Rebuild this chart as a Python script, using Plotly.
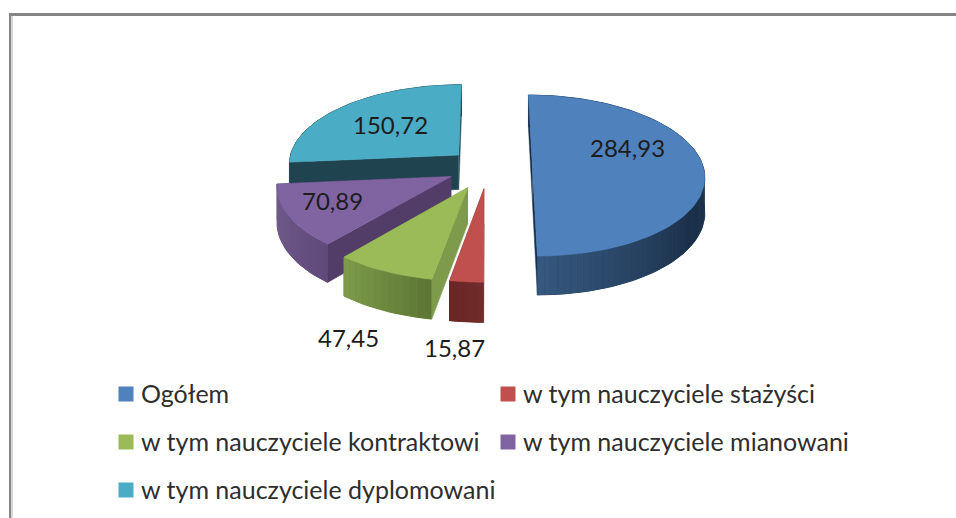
import numpy as np
import plotly.graph_objects as go

CATEGORIES = ["Ogółem", "w tym nauczyciele stażyści", "w tym nauczyciele kontraktowi",
              "w tym nauczyciele mianowani", "w tym nauczyciele dyplomowani"]
VALUES = [284.93, 15.87, 47.45, 70.89, 150.72]
VALUE_LABELS = ["284,93", "15,87", "47,45", "70,89", "150,72"]
PULL = [0.26, 0.26, 0.27, 0.24, 0.235]
TOP_COLORS = ["#4f81bd", "#c0504d", "#9bbb59", "#8064a2", "#4bacc6"]
SIDE_START = ["#36587f", "#702c2a", "#7d9b4a", "#75608f", "#1f4450"]
SIDE_END = ["#1b2f48", "#6a2725", "#5e7735", "#5f4a7c", "#1f4450"]
RADIAL_COLORS = ["#17304d", "#702c2a", "#7d9b4a", "#523c68", "#1f4450"]
LABEL_POS = [(627, 147), (454, 347), (348, 337), (332, 200), (390, 124)]
LEGEND_POS = [(126, 394), (508, 394), (126, 442), (508, 442), (126, 490)]

# Projection of the tilted pie onto the page
X0, Y0, RX, RY, K, DEPTH = 488, 167.5, 171, 79.7, 0.10, 35


def project(u, v):
    w = 1 - K * v
    return X0 + RX * u / w, Y0 + RY * v / w, DEPTH / w


def hexrgb(c):
    return np.array([int(c[i:i + 2], 16) for i in (1, 3, 5)], float)


def mix(a, b, t):
    r = hexrgb(a) * (1 - t) + hexrgb(b) * t
    return "rgb(%d,%d,%d)" % tuple(r)


fig = go.Figure()


def poly(xs, ys, color, lw=0.5):
    fig.add_trace(go.Scatter(x=list(xs), y=list(ys), mode="lines", fill="toself",
                             fillcolor=color, line=dict(color=color, width=lw),
                             hoverinfo="skip", showlegend=False))


total = sum(VALUES)
fracs = np.cumsum([0] + VALUES) / total * 2 * np.pi
wedges = []
for i in range(len(VALUES)):
    a0, a1 = fracs[i], fracs[i + 1]
    bis = (a0 + a1) / 2
    du, dv = PULL[i] * np.sin(bis), -PULL[i] * np.cos(bis)
    th = np.linspace(a0, a1, max(6, int((a1 - a0) / np.radians(2))))
    ax, ay, ad = project(du, dv)
    ex, ey, ed = project(du + np.sin(th), dv - np.cos(th))
    wedges.append((i, ax, ay, ad, ex, ey, ed))

# back-to-front painting: cyan, purple, green, red, blue
for i, ax, ay, ad, ex, ey, ed in [wedges[j] for j in (4, 3, 2, 1, 0)]:
    # far radial face
    poly([ax, ex[-1], ex[-1], ax], [ay, ey[-1], ey[-1] + ed[-1], ay + ad], RADIAL_COLORS[i])
    # outer rim: a solid base, then shaded strips on it
    poly(np.r_[ex, ex[::-1]], np.r_[ey, (ey + ed)[::-1]], mix(SIDE_START[i], SIDE_END[i], 0.5), 1.0)
    for s in range(len(ex) - 1):
        t = s / max(1, len(ex) - 2)
        t = 1 - t if i in (2, 3) else t
        shade = min(1, (1 - t) * 3) if i == 0 else t
        poly([ex[s], ex[s + 1], ex[s + 1], ex[s]],
             [ey[s], ey[s + 1], ey[s + 1] + ed[s + 1], ey[s] + ed[s]],
             mix(SIDE_START[i], SIDE_END[i], shade), 0)
    # near radial face
    poly([ax, ex[0], ex[0], ax], [ay, ey[0], ey[0] + ed[0], ay + ad], RADIAL_COLORS[i])
    # top face
    poly(np.r_[ax, ex, ax], np.r_[ay, ey, ay], TOP_COLORS[i])

# legend keys and entries
for cat, col, (lx, ly) in zip(CATEGORIES, TOP_COLORS, LEGEND_POS):
    fig.add_trace(go.Scatter(x=[lx], y=[ly], mode="markers",
                             marker=dict(symbol="square", size=15, color=col, line=dict(width=0)),
                             hoverinfo="skip", showlegend=False))
    fig.add_annotation(x=lx + 13, y=ly - 1, text=cat, showarrow=False, xanchor="left", yanchor="middle",
                       font=dict(family="Lato", size=25, color="#2e2e2e"))

# value labels
for txt, (lx, ly) in zip(VALUE_LABELS, LABEL_POS):
    fig.add_annotation(x=lx, y=ly, text=txt, showarrow=False, xanchor="center", yanchor="middle",
                       font=dict(family="Lato", size=24, color="#1c1c1c"))

# chart-area frame
fig.add_shape(type="line", x0=9, x1=956, y0=14.5, y1=14.5, line=dict(color="#868686", width=3))
fig.add_shape(type="line", x0=10, x1=10, y0=13, y1=518, line=dict(color="#868686", width=2))
fig.add_shape(type="line", x0=12, x1=12, y0=16, y1=518, line=dict(color="#d9d9d9", width=2))

fig.update_layout(
    width=956, height=518, margin=dict(l=0, r=0, t=0, b=0),
    paper_bgcolor="white", plot_bgcolor="white", showlegend=False,
    xaxis=dict(range=[0, 956], visible=False, fixedrange=True),
    yaxis=dict(range=[518, 0], visible=False, fixedrange=True),
)
fig.write_html("out.html", config=dict(displayModeBar=False),
               post_script="document.body.style.margin='0';document.body.style.overflow='hidden';")
